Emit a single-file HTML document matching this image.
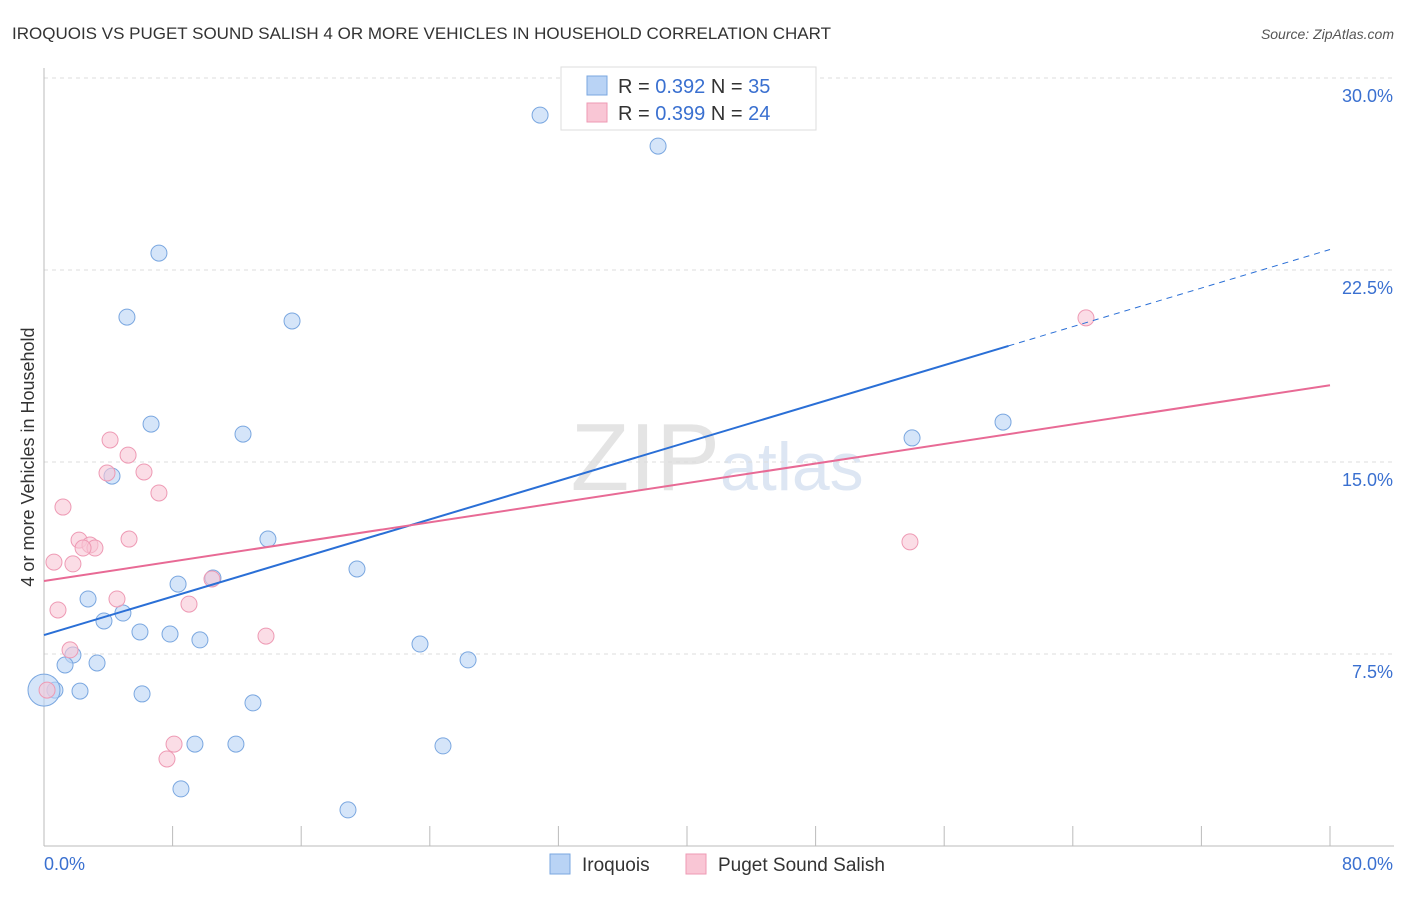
<!DOCTYPE html>
<html><head><meta charset="utf-8"><style>
body{margin:0;background:#fff;font-family:"Liberation Sans",sans-serif;}
svg text{font-family:"Liberation Sans",sans-serif;}
</style></head><body>
<svg id="chart" width="1406" height="892">
<text x="12" y="39" font-size="17" fill="#333">IROQUOIS VS PUGET SOUND SALISH 4 OR MORE VEHICLES IN HOUSEHOLD CORRELATION CHART</text>
<text x="1394" y="39" font-size="14" fill="#555" font-style="italic" text-anchor="end">Source: ZipAtlas.com</text>
<text x="720" y="490" font-size="96" fill="#e4e4e4" text-anchor="end" font-family="Liberation Serif">ZIP</text>
<text x="720" y="490" font-size="68" fill="#dde6f3">atlas</text>
<text transform="translate(34,457) rotate(-90)" font-size="18" fill="#333" text-anchor="middle">4 or more Vehicles in Household</text>
<g id="grid"></g><g id="marks"></g>
<g>
<rect x="561" y="67" width="255" height="63" fill="#fff" stroke="#ddd"/>
<rect x="587" y="76" width="20" height="19" fill="#b9d3f5" stroke="#7aa7e0"/>
<rect x="587" y="103" width="20" height="19" fill="#f9c6d5" stroke="#ee9ab4"/>
<text x="618" y="93" font-size="20" fill="#333">R = <tspan fill="#3a70d0">0.392</tspan>   N = <tspan fill="#3a70d0">35</tspan></text>
<text x="618" y="120" font-size="20" fill="#333">R = <tspan fill="#3a70d0">0.399</tspan>   N = <tspan fill="#3a70d0">24</tspan></text>
</g>
<g>
<rect x="550" y="854" width="20" height="20" fill="#b9d3f5" stroke="#7aa7e0"/>
<text x="582" y="871" font-size="19" fill="#333">Iroquois</text>
<rect x="686" y="854" width="20" height="20" fill="#f9c6d5" stroke="#ee9ab4"/>
<text x="718" y="871" font-size="19" fill="#333">Puget Sound Salish</text>
</g>
</svg>
<script>
const yTicks=[7.5,15,22.5,30];
const yTickLabels=["7.5%","15.0%","22.5%","30.0%"];
const xTickLabels=["0.0%","80.0%"];
const iroX=[30.86,38.2,7.15,5.16,15.43,6.66,12.38,4.23,13.93,19.47,8.34,10.51,2.74,4.91,3.73,5.97,7.84,9.7,23.39,26.38,1.8,1.31,3.3,0.68,2.24,6.1,13.0,9.39,11.94,24.82,8.52,18.91,54.0,59.66,0];
const iroY=[28.55,27.34,23.16,20.66,20.51,16.48,16.09,14.45,11.99,10.82,10.23,10.47,9.65,9.1,8.79,8.36,8.28,8.05,7.89,7.27,7.46,7.07,7.15,6.09,6.05,5.94,5.59,3.98,3.98,3.91,2.23,1.41,15.94,16.56,6.09];
const pugX=[64.82,4.11,5.23,3.92,6.22,7.15,1.18,0.62,2.18,5.29,2.86,3.17,2.43,1.8,10.45,4.54,0.87,9.02,13.81,1.62,8.09,7.65,53.87,0.19];
const pugY=[20.63,15.86,15.27,14.57,14.61,13.79,13.24,11.09,11.95,11.99,11.76,11.64,11.64,11.02,10.43,9.65,9.22,9.45,8.2,7.66,3.98,3.4,11.88,6.09];
const iroTrend=[8.24,23.3]; // y at x=0, x=80
const pugTrend=[10.35,18.0];
const NS="http://www.w3.org/2000/svg";
const X=v=>44+v/80*1286, Y=v=>846-v/7.5*192;
function mk(tag,attrs,parent){const e=document.createElementNS(NS,tag);for(const k in attrs)e.setAttribute(k,attrs[k]);parent.appendChild(e);return e;}
const grid=document.getElementById('grid'), marks=document.getElementById('marks');
yTicks.forEach((t,i)=>{
 const l=mk('line',{x1:44,x2:1394,y1:Y(t),y2:Y(t),stroke:'#ddd','stroke-dasharray':'4,4'},grid);
 
 
 const tx=mk('text',{x:1393,y:Y(t)+24,'font-size':18,fill:'#3a70d0','text-anchor':'end'},grid);tx.textContent=yTickLabels[i];
 
 
});
const ax=mk('line',{x1:44,x2:1394,y1:846,y2:846,stroke:'#bbb'},grid);


const ay=mk('line',{x1:44,x2:44,y1:68,y2:846,stroke:'#bbb'},grid);


for(let i=0;i<=10;i++){const t=mk('line',{x1:X(i*8),x2:X(i*8),y1:826,y2:846,stroke:'#bbb'},grid);
 
 }
[[0,'start',44],[80,'end',1393]].forEach((d,i)=>{const t=mk('text',{x:d[2],y:870,'font-size':18,fill:'#3a70d0','text-anchor':d[1]},grid);t.textContent=xTickLabels[i];
 
 });
iroX.forEach((x,i)=>{const c=mk('circle',{cx:X(x),cy:Y(iroY[i]),r:(x===0?16:8),fill:'#b9d3f5','fill-opacity':0.6,stroke:'#7aa7e0'},marks);
 
 });
pugX.forEach((x,i)=>{const c=mk('circle',{cx:X(x),cy:Y(pugY[i]),r:8,fill:'#f9c6d5','fill-opacity':0.6,stroke:'#ee9ab4'},marks);
 
 });
const iy=x=>iroTrend[0]+(iroTrend[1]-iroTrend[0])*x/80;
const l1=mk('line',{x1:X(0),y1:Y(iy(0)),x2:X(60),y2:Y(iy(60)),stroke:'#2a6fd6','stroke-width':2},marks);


const l2=mk('line',{x1:X(60),y1:Y(iy(60)),x2:X(80),y2:Y(iy(80)),stroke:'#2a6fd6','stroke-width':1,'stroke-dasharray':'6,5'},marks);


const l3=mk('line',{x1:X(0),y1:Y(pugTrend[0]),x2:X(80),y2:Y(pugTrend[1]),stroke:'#e86a95','stroke-width':2},marks);


</script>
</body></html>
